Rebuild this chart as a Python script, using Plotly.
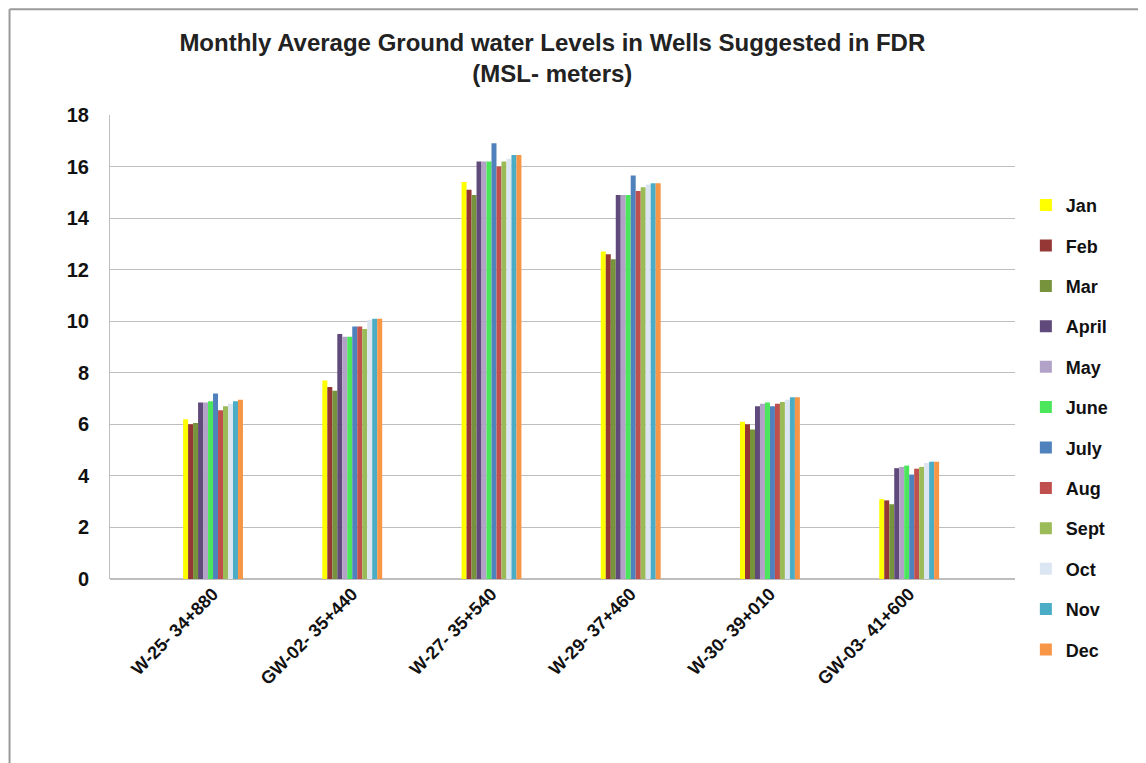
import plotly.graph_objects as go

wells = ["W-25- 34+880", "GW-02- 35+440", "W-27- 35+540", "W-29- 37+460", "W-30- 39+010", "GW-03- 41+600"]
months = ["Jan", "Feb", "Mar", "April", "May", "June", "July", "Aug", "Sept", "Oct", "Nov", "Dec"]

jan = [6.2, 7.7, 15.4, 12.7, 6.1, 3.1]
feb = [6.0, 7.45, 15.1, 12.6, 6.0, 3.05]
mar = [6.05, 7.3, 14.9, 12.4, 5.8, 2.9]
april = [6.85, 9.5, 16.2, 14.9, 6.7, 4.3]
may = [6.85, 9.4, 16.2, 14.9, 6.8, 4.35]
june = [6.9, 9.4, 16.2, 14.9, 6.85, 4.4]
july = [7.2, 9.8, 16.9, 15.65, 6.7, 4.05]
aug = [6.55, 9.8, 16.0, 15.05, 6.8, 4.28]
sept = [6.7, 9.7, 16.2, 15.2, 6.87, 4.35]
octo = [6.8, 10.05, 16.3, 15.3, 6.95, 4.5]
nov = [6.9, 10.1, 16.45, 15.35, 7.05, 4.55]
dec = [6.95, 10.1, 16.45, 15.35, 7.05, 4.55]

series = [jan, feb, mar, april, may, june, july, aug, sept, octo, nov, dec]
colors = ["#FFFF00", "#953735", "#77933C", "#604A7B", "#B3A2C7", "#4CE65C",
          "#4F81BD", "#C0504D", "#9BBB59", "#DCE6F2", "#4BACC6", "#F79646"]

fig = go.Figure()
for name, vals, col in zip(months, series, colors):
    fig.add_trace(go.Bar(x=wells, y=vals, name="<b>%s</b>" % name, marker_color=col,
                         marker_line_width=0, legendgroup=name))

font_family = "Liberation Sans, Arial, sans-serif"
fig.update_layout(
    width=1146, height=763,
    paper_bgcolor="white", plot_bgcolor="white",
    margin=dict(l=102, r=139, t=107, b=192),
    barmode="group", bargap=0.57, bargroupgap=0,
    title=dict(text="<b>Monthly Average Ground water Levels in Wells Suggested in FDR<br>(MSL- meters)</b>",
               x=0.475, xanchor="center", y=0.944, yanchor="top",
               font=dict(family=font_family, size=24, color="#222222")),
    font=dict(family=font_family, color="#111111"),
    legend=dict(x=1.012, xanchor="left", y=0.845, yanchor="top",
                font=dict(size=18, family=font_family, color="#111111"),
                tracegroupgap=14, itemwidth=30, traceorder="grouped",
                maxheight=700,
                bgcolor="rgba(0,0,0,0)"),
    showlegend=True,
)
fig.update_xaxes(type="category", range=[-0.74, 5.76], tickangle=-45,
                 tickfont=dict(size=18, family=font_family, color="#111111"),
                 showgrid=False, showline=False, ticks="",
                 ticktext=["<b>%s</b>" % w for w in wells], tickvals=wells)
fig.update_yaxes(range=[0, 18], showgrid=True, gridcolor="#BEBEBE", gridwidth=1,
                 showline=True, linecolor="#BEBEBE", linewidth=1, zeroline=True,
                 zerolinecolor="#BEBEBE",
                 tickfont=dict(size=20, family=font_family, color="#111111"),
                 ticks="", ticklabelstandoff=16,
                 tickvals=list(range(0, 19, 2)),
                 ticktext=["<b>%d</b>" % v for v in range(0, 19, 2)])
# chart-area frame (left and top edges)
fig.add_shape(type="line", xref="paper", yref="paper", x0=-0.111, x1=-0.111, y0=-0.42, y1=1.228,
              line=dict(color="#9A9A9A", width=2))
fig.add_shape(type="line", xref="paper", yref="paper", x0=-0.111, x1=1.16, y0=1.228, y1=1.228,
              line=dict(color="#9A9A9A", width=2))

fig.write_html("out.html")
